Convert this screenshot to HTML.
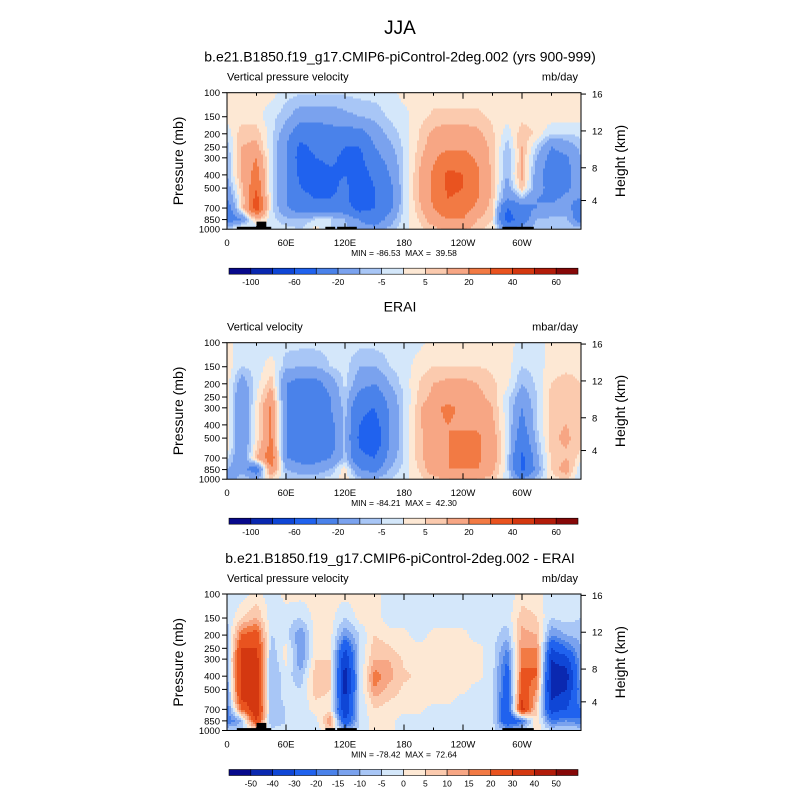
<!DOCTYPE html>
<html><head><meta charset="utf-8">
<style>
body{margin:0;background:#fff;}
svg{display:block;font-family:"Liberation Sans",sans-serif;}
text{white-space:pre;}
</style></head>
<body>
<svg id="chart" width="800" height="800" viewBox="0 0 800 800">
<rect width="800" height="800" fill="#fff"/>
<text x="400" y="34" font-size="19" text-anchor="middle">JJA</text>
</svg>
<script>
// ---- shared axes data ----
const lons = [0,15,30,45,60,75,90,105,120,135,150,165,180,195,210,225,240,255,270,285,300,315,330,345,360];
const levels = [100,150,200,250,300,400,500,600,700,850,1000];
const pTicks = [100,150,200,250,300,400,500,700,850,1000];
const xTickLons = [0,60,120,180,240,300];
const xTickLabels = ["0","60E","120E","180","120W","60W"];
const hTicks = [4,8,12,16];
const hTickFrac = [0.79,0.55,0.28,0.01];
const colors = ["#07098c","#0a28b0","#0f46d6","#2062ee","#4a82ea","#7aa2ee","#a8c6f6","#d4e7fa","#fde8d4","#fbcaae","#f7a684","#f27a44","#e9531f","#d43810","#b21c0a","#860808"];
const levs1 = [-100,-80,-60,-40,-20,-10,-5,0,5,10,20,30,40,50,60];
const labs1 = ["-100","","-60","","-20","","-5","","5","","20","","40","","60"];
const levs3 = [-50,-40,-30,-20,-15,-10,-5,0,5,10,15,20,30,40,50];
const labs3 = ["-50","-40","-30","-20","-15","-10","-5","0","5","10","15","20","30","40","50"];
// topography blocks [lon0, lon1, pTop]
const topo = [[10,45,960],[30,40,880],[100,110,960],[112,132,960],[280,312,960]];

// ---- panel fields (rows = levels, cols = lons) ----
const field1 = [
[2,2,2,2,-3,-4,-4,-4,-4,-3,-3,-2,2,3,3,3,3,3,3,3,3,3,3,3,2],
[2,2,2,-3,-8,-15,-15,-15,-12,-10,-8,-4,-2,3,6,6,6,6,4,2,3,3,3,3,2],
[-3,8,8,-3,-15,-30,-30,-25,-25,-25,-15,-8,-3,5,12,15,15,12,6,-3,8,4,-5,-5,-3],
[-8,10,12,-4,-20,-45,-35,-30,-40,-40,-20,-12,-4,6,15,18,18,15,8,-8,10,-5,-20,-15,-8],
[-10,12,20,-3,-20,-50,-40,-35,-45,-45,-25,-15,-5,8,18,25,25,18,8,-10,10,-10,-25,-22,-10],
[-10,12,25,-3,-20,-45,-50,-45,-40,-50,-35,-20,-5,10,22,32,30,22,8,-10,12,-15,-28,-25,-12],
[-15,8,30,-3,-20,-40,-45,-45,-35,-55,-40,-25,-5,10,22,32,30,22,8,-15,8,-15,-25,-22,-15],
[-20,5,35,-3,-20,-35,-40,-40,-35,-55,-40,-25,-5,10,22,30,28,20,8,-20,-10,-20,-22,-18,-20],
[-30,5,40,-3,-18,-30,-30,-30,-30,-50,-40,-25,-4,8,20,28,25,18,6,-40,-25,-20,-18,-15,-30],
[-30,-20,10,-3,-8,-10,-5,-5,-10,-20,-30,-15,-2,5,15,20,20,10,5,-50,-30,-10,-8,-8,-30],
[-5,5,-10,-3,-3,-5,3,-5,-8,-15,-15,-8,-2,3,8,12,12,6,3,-20,-15,-5,-5,-5,-5]];
const field2 = [
[2,-3,-3,-3,-3,-3,-3,-3,-3,-3,-3,-3,-3,-2,3,3,3,3,3,3,-3,-3,3,3,2],
[3,-5,-3,3,-8,-10,-10,-5,-3,-10,-10,-5,-3,3,5,5,5,5,4,2,-5,-3,3,3,3],
[3,-15,-2,8,-20,-25,-25,-15,-4,-15,-20,-10,-3,5,10,12,12,10,6,2,-10,-4,5,8,5],
[3,-20,0,15,-20,-30,-30,-20,-5,-25,-30,-15,-5,6,12,15,15,12,8,-3,-15,-5,8,10,5],
[3,-20,2,22,-20,-30,-35,-20,-8,-35,-40,-18,-5,8,18,22,18,15,10,-3,-20,-5,8,10,5],
[3,-20,2,22,-20,-30,-35,-25,-8,-40,-50,-20,-5,8,18,20,18,18,12,-3,-25,-5,8,10,5],
[3,-20,2,22,-20,-30,-35,-25,-8,-45,-60,-20,-5,8,15,20,22,22,15,-3,-30,-8,8,12,5],
[3,-20,5,25,-20,-30,-30,-25,-8,-40,-50,-18,-5,8,15,20,22,22,15,-3,-35,-10,8,10,5],
[-3,-20,10,30,-20,-25,-25,-20,-8,-35,-40,-15,-5,8,15,20,22,22,15,-3,-45,-12,5,10,3],
[-10,-15,-30,20,-10,-15,-15,-10,3,-20,-25,-10,-3,5,15,20,20,20,12,-3,-45,-15,5,15,-5],
[-20,-5,-10,5,-5,-5,-5,-3,3,-8,-10,-5,-2,3,8,10,10,10,8,-3,-20,-8,3,5,-5]];
const field3 = [
[-3,-3,2,-3,2,2,2,2,2,2,2,-3,-3,-3,-3,-3,-3,-3,-3,-3,2,2,-3,-3,-3],
[-5,5,10,-3,-3,-5,2,2,-5,2,3,-3,-3,-3,-3,-3,-3,-3,-3,-3,8,5,-5,-3,-5],
[-8,20,25,-5,-3,-15,2,2,-15,-5,5,2,2,-3,2,2,2,-3,-3,-8,12,10,-15,-10,-8],
[-10,30,30,-8,2,-15,3,4,-30,-5,8,6,2,2,2,2,2,2,-3,-15,15,15,-30,-20,-10],
[-10,35,35,-10,2,-15,5,5,-40,-5,10,10,4,3,3,3,2,2,-3,-20,18,20,-40,-35,-10],
[-12,35,35,-10,-3,-8,8,5,-45,-5,18,12,6,4,3,3,2,2,-3,-25,22,20,-45,-45,-12],
[-15,35,35,-10,-3,-5,8,5,-45,-5,15,8,4,3,2,2,2,-3,-3,-25,25,15,-45,-40,-15],
[-15,30,35,-10,-3,-5,5,3,-40,-5,8,5,3,2,2,2,-3,-3,-3,-30,30,10,-40,-35,-15],
[-20,20,40,-10,-5,-5,3,2,-40,-5,5,3,2,2,-3,-3,-3,-3,-3,-30,35,5,-35,-30,-20],
[-20,-10,30,-10,-5,-5,-3,15,-30,-5,3,2,-3,-3,-3,-3,-3,-3,-3,-30,-20,5,-20,-15,-20],
[-5,-5,3,-3,-3,-3,-3,5,-10,-3,2,2,-3,-3,-3,-3,-3,-3,-3,-10,-5,3,-5,-5,-5]];

const NS="http://www.w3.org/2000/svg";
const svg=document.getElementById('chart');
function mk(tag,attrs,parent){const e=document.createElementNS(NS,tag);for(const k in attrs)e.setAttribute(k,attrs[k]);(parent||svg).appendChild(e);return e;}
const X0=227,X1=581,H=136.5;
function xScale(lon){return X0+(lon/360)*(X1-X0);}

function colorFor(v,levs){let i=0;while(i<levs.length&&v>=levs[i])i++;return colors[i];}
function sample(field,lon,p){
  let ci=Math.min(lons.length-2,Math.floor(lon/15));let tx=(lon-lons[ci])/15;
  let ri=0;while(ri<levels.length-2&&p>levels[ri+1])ri++;
  let ty=(Math.log(p)-Math.log(levels[ri]))/(Math.log(levels[ri+1])-Math.log(levels[ri]));
  ty=Math.max(0,Math.min(1,ty));
  const a=field[ri][ci],b=field[ri][ci+1],c=field[ri+1][ci],d=field[ri+1][ci+1];
  return (a*(1-tx)+b*tx)*(1-ty)+(c*(1-tx)+d*tx)*ty;
}

function panel(cfg){
  const T=cfg.top;
  const yScale=p=>T+(Math.log10(p)-2)*H;
  const g=mk('g',{});
  
  
  if(cfg.title){const t=mk('text',{x:400,y:T-31,'font-size':14,'text-anchor':'middle'},g);t.textContent=cfg.title;
    
    }
  const l=mk('text',{x:X0,y:T-12,'font-size':11},g);l.textContent=cfg.left;
  
  
  const r=mk('text',{x:X1-3,y:T-12,'font-size':11,'text-anchor':'end'},g);r.textContent=cfg.units;
  
  
  const fg=mk('g',{'shape-rendering':'crispEdges'},g);
  
  
  const step=2;
  for(let py=T;py<T+H;py+=step){
    const p=Math.pow(10,2+(py+step/2-T)/H);
    let runStart=X0,runCol=null;
    for(let px=X0;px<=X1;px+=step){
      let col=null;
      if(px<X1){const lon=(px+step/2-X0)/(X1-X0)*360;col=colorFor(sample(cfg.field,lon,p),cfg.levs);}
      if(col!==runCol){
        if(runCol){const c=mk('rect',{x:runStart,y:py,width:Math.min(px,X1)-runStart,height:Math.min(step,T+H-py)+0.3,fill:runCol},fg);
          
          }
        runStart=px;runCol=col;
      }
    }
  }
  if(cfg.topo){topo.forEach(b=>{const tb=mk('rect',{x:xScale(b[0]),y:yScale(b[2]),width:xScale(b[1])-xScale(b[0]),height:yScale(1000)-yScale(b[2]),fill:'#000'},g);
    
    });}
  const fr=mk('rect',{x:X0,y:T,width:X1-X0,height:H,fill:'none',stroke:'#000','stroke-width':1},g);
  
  
  for(let lon=0;lon<=360;lon+=30){const x=xScale(lon);const len=lon%60===0?6:3;
    mk('line',{x1:x,x2:x,y1:T,y2:T+len,stroke:'#000'},g);
    mk('line',{x1:x,x2:x,y1:T+H,y2:T+H-len,stroke:'#000'},g);}
  xTickLons.forEach((lon,i)=>{const t=mk('text',{x:xScale(lon),y:T+H+17,'font-size':9.5,'text-anchor':'middle'},g);t.textContent=xTickLabels[i];
    
    });
  pTicks.forEach(p=>{const y=yScale(p);mk('line',{x1:X0-5,x2:X0,y1:y,y2:y,stroke:'#000'},g);
    const t=mk('text',{x:X0-7,y:y+3.5,'font-size':9.5,'text-anchor':'end'},g);t.textContent=p;
    
    });
  hTicks.forEach((h,i)=>{const y=T+hTickFrac[i]*H;mk('line',{x1:X1,x2:X1+5,y1:y,y2:y,stroke:'#000'},g);
    const t=mk('text',{x:X1+11,y:y+3.5,'font-size':9.5},g);t.textContent=h;
    
    });
  const yl=mk('text',{x:0,y:0,'font-size':14,'text-anchor':'middle',transform:`translate(183,${T+H/2}) rotate(-90)`},g);yl.textContent='Pressure (mb)';
  
  
  const hl=mk('text',{x:0,y:0,'font-size':14,'text-anchor':'middle',transform:`translate(625,${T+H/2}) rotate(-90)`},g);hl.textContent='Height (km)';
  
  
  const mm=mk('text',{x:404,y:T+H+27,'font-size':8.5,'text-anchor':'middle'},g);mm.textContent=cfg.minmax;
  
  
  const cb=mk('g',{},g);
  
  
  const cx0=229,cx1=578,cy=T+H+39,bw=(cx1-cx0)/16;
  colors.forEach((c,i)=>{const b=mk('rect',{x:cx0+i*bw,y:cy,width:bw,height:6,fill:c,stroke:'#000','stroke-width':0.6},cb);
    
    });
  cfg.labs.forEach((s,i)=>{if(!s)return;const t=mk('text',{x:cx0+(i+1)*bw,y:cy+17,'font-size':8.5,'text-anchor':'middle'},cb);t.textContent=s;
    
    });
}
panel({name:'model-panel',top:92.7,title:'b.e21.B1850.f19_g17.CMIP6-piControl-2deg.002 (yrs 900-999)',left:'Vertical pressure velocity',units:'mb/day',field:field1,levs:levs1,labs:labs1,topo:true,minmax:'MIN = -86.53  MAX =  39.58'});
panel({name:'erai-panel',top:342.7,title:'ERAI',left:'Vertical velocity',units:'mbar/day',field:field2,levs:levs1,labs:labs1,topo:false,minmax:'MIN = -84.21  MAX =  42.30'});
panel({name:'difference-panel',top:594,title:'b.e21.B1850.f19_g17.CMIP6-piControl-2deg.002 - ERAI',left:'Vertical pressure velocity',units:'mb/day',field:field3,levs:levs3,labs:labs3,topo:true,minmax:'MIN = -78.42  MAX =  72.64'});
</script>
</body></html>
